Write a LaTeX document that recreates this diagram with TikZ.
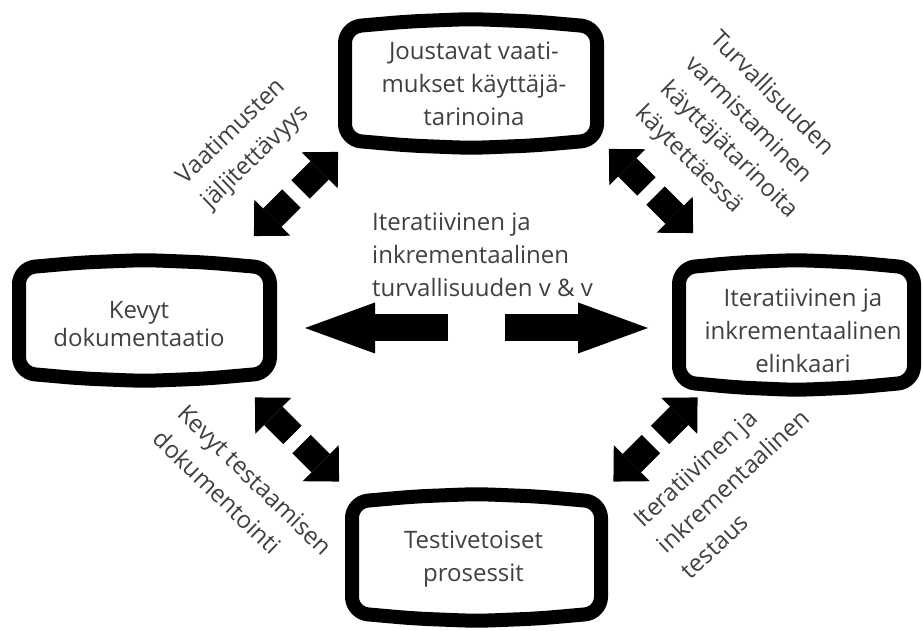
\documentclass[tikz,border=0pt]{standalone}
\usepackage{fontspec}
\setmainfont{Open Sans}
\usetikzlibrary{arrows.meta}
\definecolor{inkGray}{HTML}{404040}
\newcommand{\pill}[3]{%
  \draw[rim,shift={(#1)}] (-#2,0) -- (-#2,#3-8) -- (-#2/2,#3-2.5) -- (0,#3)
    -- (#2/2,#3-2.5) -- (#2,#3-8) -- (#2,8-#3) -- (#2/2,2.5-#3) -- (0,-#3)
    -- (-#2/2,2.5-#3) -- (-#2,8-#3) -- cycle;}

\begin{document}
\begin{tikzpicture}[x=1pt,y=1pt,
  font=\fontsize{24}{33}\selectfont,
  rim/.style={line width=14pt, rounded corners=16pt, line join=round},
  lbl/.style={text=inkGray, inner sep=0pt, align=center},
  tilt/.style={lbl, font=\fontsize{24}{35}\selectfont},
  twin/.style={line width=26pt, -{Triangle[length=26pt,width=51pt,line width=0pt]}},
  wide/.style={line width=27pt, -{Triangle[length=70pt,width=51pt,line width=0pt]}}]
\useasboundingbox (0,0) rectangle (923,631);

\pill{471,547.5}{126}{64.5}
\pill{144.5,310.5}{125.5}{60.5}
\pill{796.5,306}{117.5}{65}
\pill{476.5,73.5}{124.5}{63.5}

\node[lbl] (req) at (474,546.75) {Joustavat vaati-\\mukset käyttäjä-\\tarinoina};
\node[lbl] (doc) at (139,306.75) {Kevyt\\[-5pt]dokumentaatio};
\node[lbl] (life) at (803,299.75) {Iteratiivinen ja\\inkrementaalinen\\elinkaari};
\node[lbl] (tdd) at (473.5,72.35) {Testivetoiset\\prosessit};

\node[lbl, align=left, anchor=west] (vv) at (372,376.25)
  {Iteratiivinen ja\\inkrementaalinen\\turvallisuuden v \& v};
\node[tilt, rotate=44] (trace) at (244,486) {Vaatimusten\\jäljitettävyys};
\node[tilt, align=left, rotate=-45] (secu) at (741,493)
  {Turvallisuuden\\varmistaminen\\käyttäjätarinoita\\käytettäessä};
\node[tilt, align=left, rotate=-44] (tdoc) at (243,138.5) {Kevyt testaamisen\\dokumentointi};
\node[tilt, align=left, rotate=43] (itest) at (733,150) {Iteratiivinen ja\\inkrementaalinen\\testaus};

\coordinate (hub) at (476.5,303);
\coordinate (nw) at (296,437);
\coordinate (ne) at (651,440);
\coordinate (sw) at (297,191.5);
\coordinate (se) at (655.5,191.5);

\draw[wide] (hub) ++(-28.5,0) -- ++(-143,0);
\draw[wide] (hub) ++(28.5,0) -- ++(143,0);
\foreach \h/\a in {nw/45,nw/225,ne/135,ne/-45,sw/135,sw/-45,se/45,se/225}
  \draw[twin] (\h) ++(\a:6.5) -- ++(\a:53);
\end{tikzpicture}
\end{document}
